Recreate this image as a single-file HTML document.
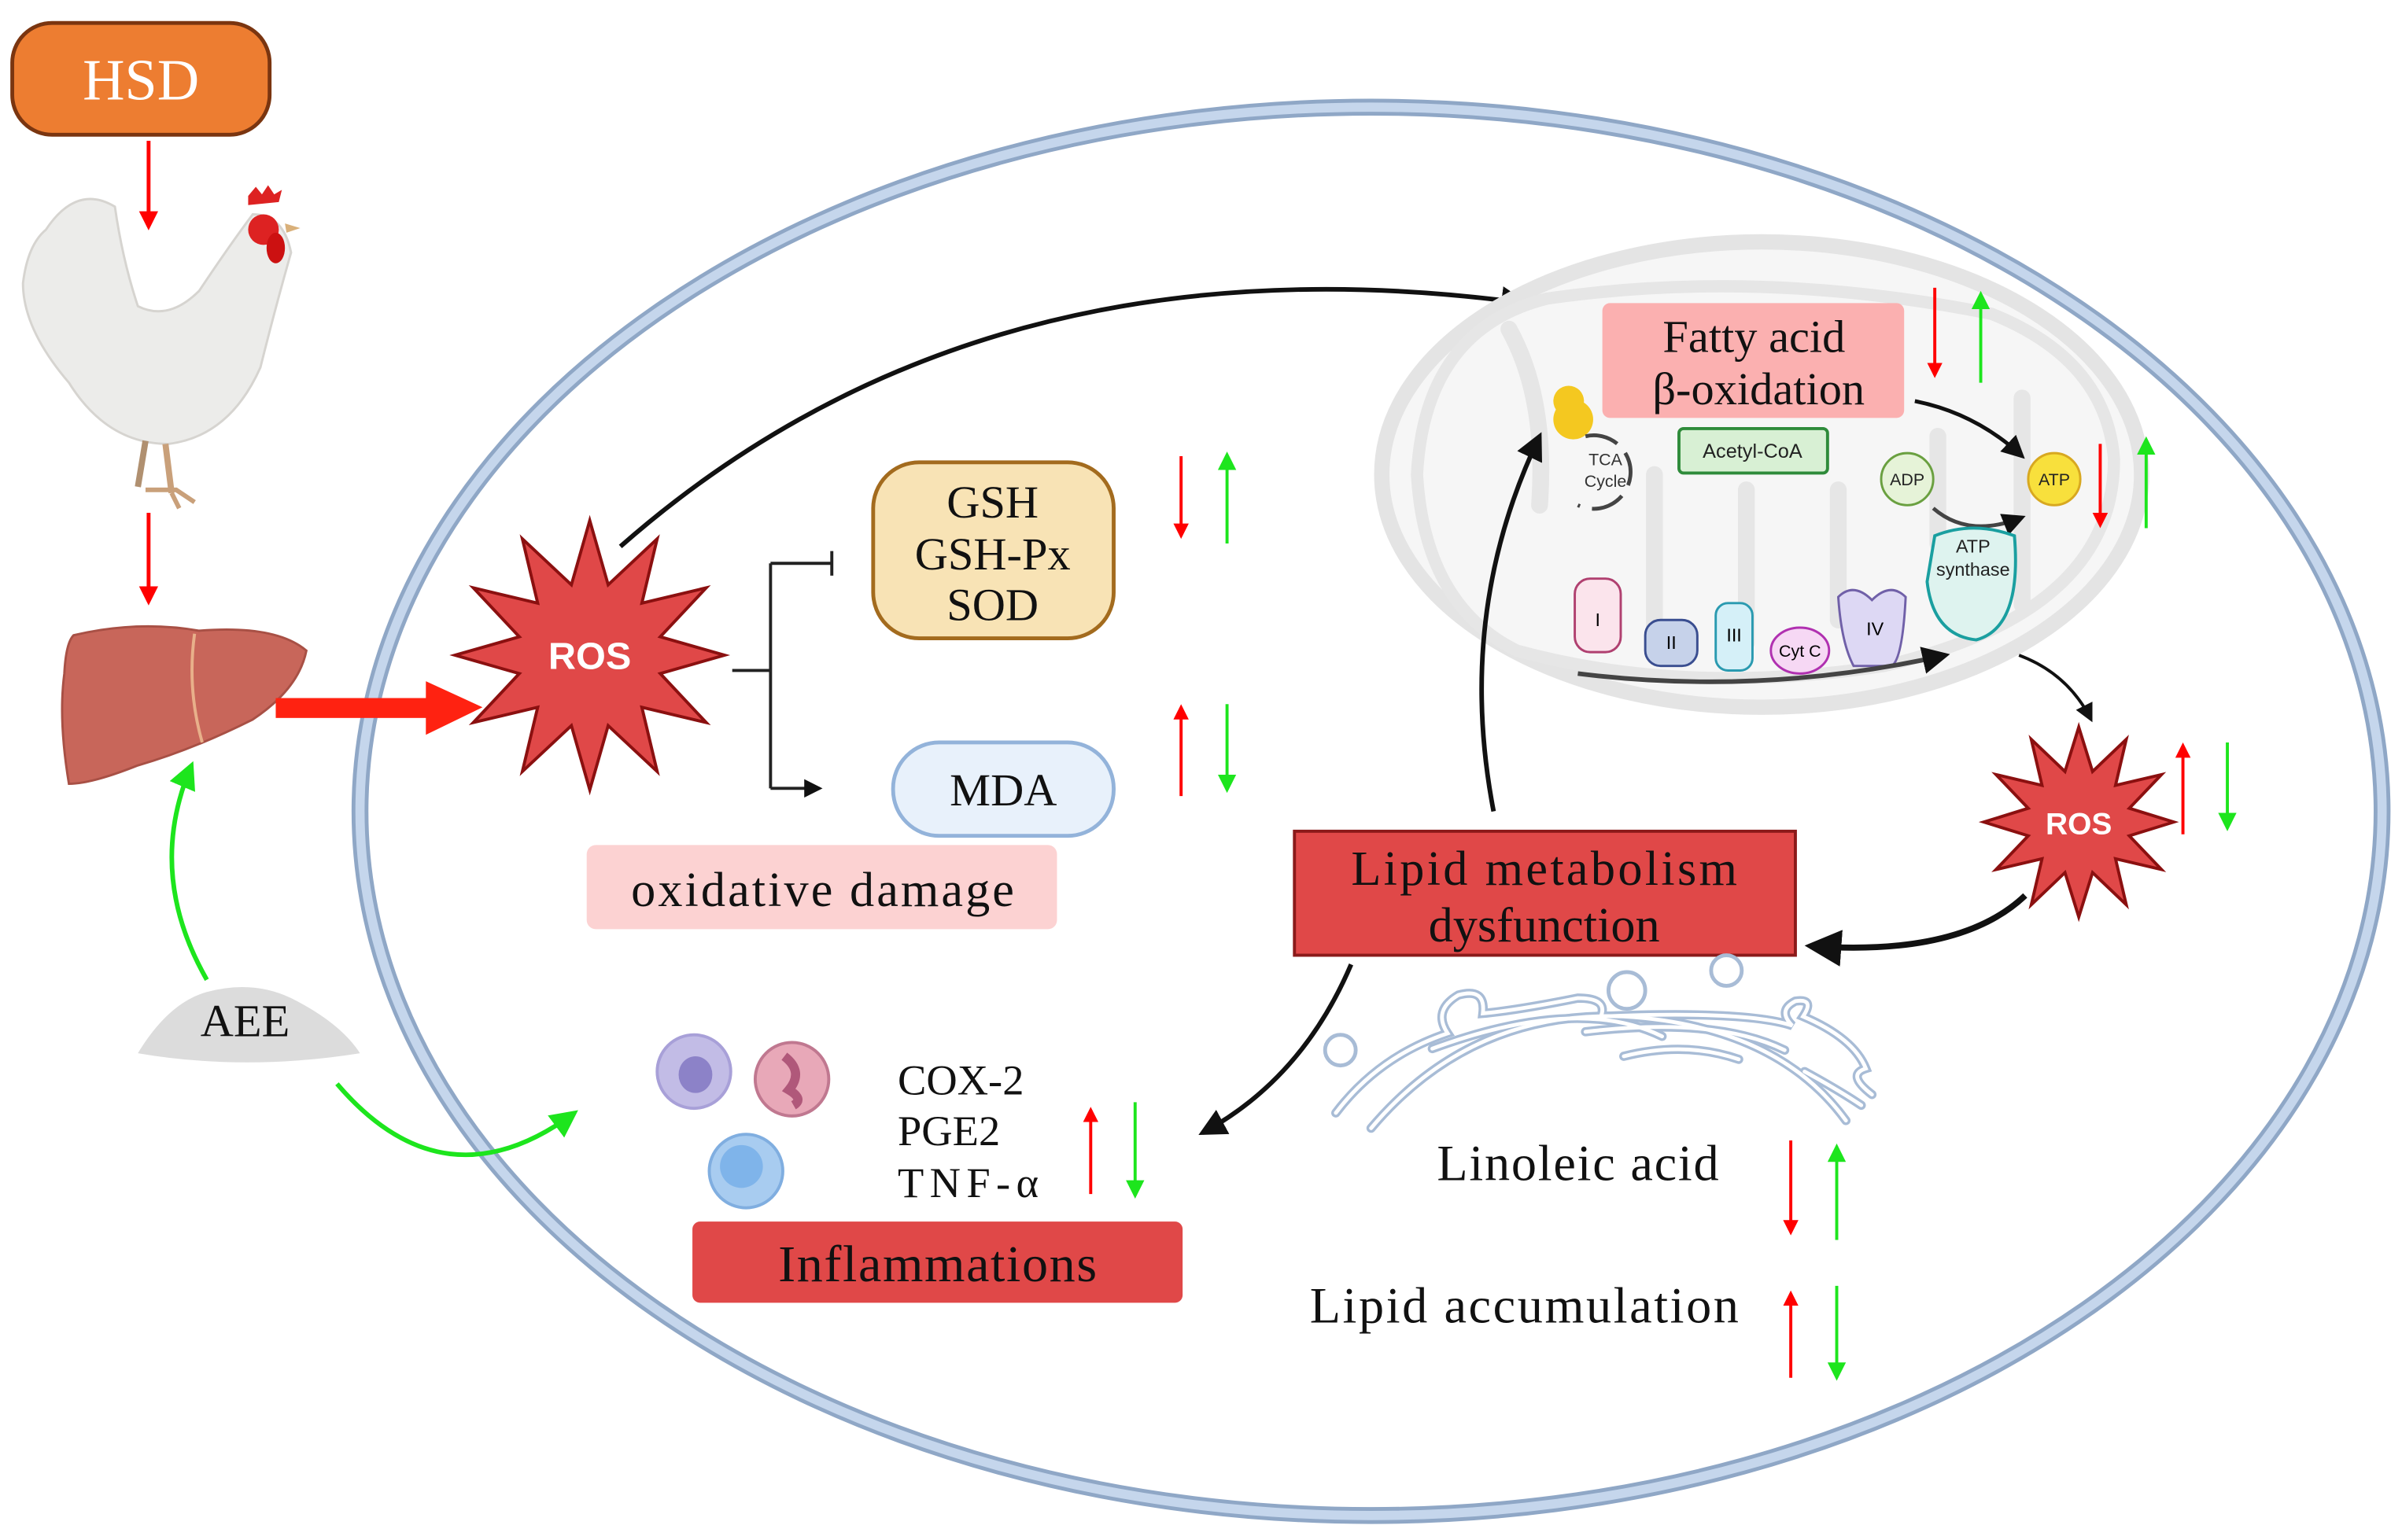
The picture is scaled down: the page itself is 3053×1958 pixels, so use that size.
<!DOCTYPE html>
<html><head><meta charset="utf-8"><style>
html,body{margin:0;padding:0;background:#fff;}
svg{display:block;}
.t{font-family:"Liberation Serif",serif;fill:#111;}
.s{font-family:"Liberation Sans",sans-serif;}
</style></head><body>
<svg width="3053" height="1958" viewBox="0 0 1568 1006" preserveAspectRatio="none" xmlns="http://www.w3.org/2000/svg">
<defs>
<marker id="ab" markerWidth="6" markerHeight="6" refX="5" refY="3" orient="auto" markerUnits="strokeWidth"><path d="M0,0 L6,3 L0,6 z" fill="#111"/></marker>
<marker id="ag" markerWidth="6" markerHeight="6" refX="5" refY="3" orient="auto" markerUnits="strokeWidth"><path d="M0,0 L6,3 L0,6 z" fill="#1de51d"/></marker>
<marker id="ar" markerWidth="5" markerHeight="5" refX="4" refY="2.5" orient="auto" markerUnits="strokeWidth"><path d="M0,0 L5,2.5 L0,5 z" fill="#f00"/></marker>
</defs>

<!-- cell membrane -->
<ellipse cx="895" cy="530" rx="660" ry="460" fill="none" stroke="#8fa7c6" stroke-width="11"/>
<ellipse cx="895" cy="530" rx="660" ry="460" fill="none" stroke="#c5d6ec" stroke-width="6"/>

<!-- HSD -->
<rect x="8" y="15" width="168" height="73" rx="26" fill="#ED7D31" stroke="#7a3510" stroke-width="2.5"/>
<text x="92" y="65" text-anchor="middle" class="t" style="fill:#fff" font-size="38">HSD</text>
<line x1="97" y1="92" x2="97" y2="148" stroke="#f00" stroke-width="2.5" marker-end="url(#ar)"/>
<line x1="97" y1="335" x2="97" y2="393" stroke="#f00" stroke-width="2.5" marker-end="url(#ar)"/>

<!-- chicken -->
<g>
<path d="M30,150 Q50,120 75,135 Q80,170 90,200 Q110,210 130,190 Q150,160 165,140 Q185,140 190,165 Q180,200 170,240 Q150,285 110,290 Q70,290 45,250 Q15,215 15,185 Q18,160 30,150z" fill="#ececea" stroke="#d6d4d0" stroke-width="1.5"/>
<path d="M162,128 l5,-6 l4,5 l4,-6 l4,6 l5,-3 l-2,8 l-20,2z" fill="#d22"/>
<circle cx="172" cy="150" r="10" fill="#d22"/>
<ellipse cx="180" cy="162" rx="6" ry="10" fill="#c11"/>
<path d="M186,146 l10,3 l-9,3z" fill="#d9b07a"/>
<line x1="95" y1="288" x2="90" y2="318" stroke="#b09070" stroke-width="4"/>
<line x1="108" y1="290" x2="112" y2="322" stroke="#c9a07a" stroke-width="4"/>
<path d="M95,320 l20,0 l12,8 M112,322 l5,10" stroke="#c9a07a" stroke-width="3" fill="none"/>
</g>

<!-- liver -->
<path d="M48,415 Q90,405 130,412 Q180,408 200,425 Q195,450 165,470 Q125,490 90,500 Q60,512 45,512 Q38,470 42,440 Q43,420 48,415z" fill="#c8665a" stroke="#a85045" stroke-width="1.5"/>
<path d="M127,414 Q122,450 132,485" stroke="#e8b08a" stroke-width="2" fill="none"/>
<rect x="180" y="456" width="100" height="13" fill="#f21"/>
<polygon points="278,445 315,462 278,480" fill="#f21"/>

<!-- AEE -->
<path d="M90,688 Q110,655 135,648 Q165,640 190,652 Q222,668 235,688 Q160,700 90,688z" fill="#dcdcdc"/>
<text x="160" y="677" text-anchor="middle" class="t" font-size="30">AEE</text>
<path d="M135,640 Q95,570 125,500" stroke="#1de51d" stroke-width="3" fill="none" marker-end="url(#ag)"/>
<path d="M220,708 Q290,790 375,727" stroke="#1de51d" stroke-width="3" fill="none" marker-end="url(#ag)"/>

<!-- ROS 1 -->
<polygon points="385,340 397,382 429,352 419,394 461,384 431,416 473,428 431,440 461,472 419,462 429,504 397,474 385,516 373,474 341,504 351,462 309,472 339,440 297,428 339,416 309,384 351,394 341,352 373,382" fill="#e04848" stroke="#8b1010" stroke-width="2"/>
<text x="385" y="437" text-anchor="middle" class="s" font-weight="bold" font-size="25" fill="#fff">ROS</text>

<!-- bracket -->
<path d="M478,438 H503 M503,368 V515 M503,368 H543 M543,360 V376" stroke="#222" stroke-width="2" fill="none"/>
<path d="M503,515 H535" stroke="#222" stroke-width="2" fill="none" marker-end="url(#ab)"/>

<!-- GSH -->
<rect x="570" y="302" width="157" height="115" rx="30" fill="#f8e3b5" stroke="#a36b1e" stroke-width="2.5"/>
<text x="648" y="338" text-anchor="middle" class="t" font-size="30">GSH</text>
<text x="648" y="372" text-anchor="middle" class="t" font-size="30">GSH-Px</text>
<text x="648" y="405" text-anchor="middle" class="t" font-size="30">SOD</text>
<rect x="583" y="485" width="144" height="61" rx="30" fill="#e8f1fb" stroke="#93b3da" stroke-width="2.5"/>
<text x="655" y="526" text-anchor="middle" class="t" font-size="30">MDA</text>
<rect x="383" y="552" width="307" height="55" rx="6" fill="#fcd2d2"/>
<text x="537" y="592" text-anchor="middle" class="t" font-size="32" textLength="250">oxidative damage</text>

<path d="M405,357 Q640,150 995,198" stroke="#111" stroke-width="3" fill="none" marker-end="url(#ab)"/>

<!-- mitochondrion -->
<ellipse cx="1150" cy="310" rx="248" ry="152" fill="#f6f6f6" stroke="#e4e4e4" stroke-width="10"/>
<path d="M1380,300 Q1380,400 1230,435 Q1100,455 990,425 Q930,395 925,310 Q930,215 1010,195 Q1150,175 1300,205 Q1375,235 1380,300z" fill="none" stroke="#e6e6e6" stroke-width="8"/>
<path d="M985,215 Q1010,260 1005,330 M1080,310 L1080,410 M1140,320 L1140,420 M1200,320 L1200,405 M1265,285 L1265,355 M1320,260 L1320,395" stroke="#e6e6e6" stroke-width="11" fill="none" stroke-linecap="round"/>

<rect x="1046" y="198" width="197" height="75" rx="5" fill="#fbb0b0"/>
<text x="1145" y="230" text-anchor="middle" class="t" font-size="30">Fatty acid</text>
<text x="1148" y="264" text-anchor="middle" class="t" font-size="30">β-oxidation</text>

<circle cx="1024" cy="262" r="10" fill="#f4c820"/><circle cx="1027" cy="274" r="13" fill="#f4c820"/>
<path d="M1035,285 A24,24 0 1 1 1030,330" stroke="#444" stroke-width="2.5" fill="none" stroke-dasharray="22,8"/>
<text x="1048" y="304" text-anchor="middle" class="s" font-size="11" fill="#333">TCA</text>
<text x="1048" y="318" text-anchor="middle" class="s" font-size="11" fill="#333">Cycle</text>
<rect x="1096" y="280" width="97" height="29" rx="3" fill="#d8f0d4" stroke="#2e8b3a" stroke-width="2"/>
<text x="1144" y="299" text-anchor="middle" class="s" font-size="13" fill="#222">Acetyl-CoA</text>
<circle cx="1245" cy="313" r="17" fill="#e6f3d8" stroke="#6aa040" stroke-width="1.5"/>
<text x="1245" y="317" text-anchor="middle" class="s" font-size="11" fill="#222">ADP</text>
<circle cx="1341" cy="313" r="17" fill="#f8e03c" stroke="#d8a820" stroke-width="1.5"/>
<text x="1341" y="317" text-anchor="middle" class="s" font-size="11" fill="#222">ATP</text>
<path d="M1250,262 Q1290,270 1320,298" stroke="#111" stroke-width="2.5" fill="none" marker-end="url(#ab)"/>
<path d="M1262,332 Q1285,352 1320,338" stroke="#444" stroke-width="2.5" fill="none" marker-end="url(#ab)"/>
<path d="M1263,350 Q1288,340 1315,350 Q1320,410 1290,418 Q1262,415 1258,380z" fill="#def3ef" stroke="#1a9fa0" stroke-width="2"/>
<text x="1288" y="361" text-anchor="middle" class="s" font-size="12" fill="#222">ATP</text>
<text x="1288" y="376" text-anchor="middle" class="s" font-size="12" fill="#222">synthase</text>
<rect x="1028" y="378" width="30" height="48" rx="10" fill="#fbe4ec" stroke="#b04070" stroke-width="1.5"/>
<text x="1043" y="409" text-anchor="middle" class="s" font-size="12">I</text>
<rect x="1074" y="405" width="34" height="30" rx="10" fill="#c6d2ea" stroke="#3a4e90" stroke-width="1.5"/>
<text x="1091" y="424" text-anchor="middle" class="s" font-size="12">II</text>
<rect x="1120" y="394" width="24" height="44" rx="8" fill="#d5f0f8" stroke="#2a9ab0" stroke-width="1.5"/>
<text x="1132" y="419" text-anchor="middle" class="s" font-size="12">III</text>
<ellipse cx="1175" cy="425" rx="19" ry="15" fill="#f6d8f4" stroke="#b030b0" stroke-width="1.5"/>
<text x="1175" y="429" text-anchor="middle" class="s" font-size="11">Cyt C</text>
<path d="M1200,390 Q1210,380 1222,392 Q1234,380 1244,390 Q1242,430 1235,435 L1210,435 Q1202,420 1200,390z" fill="#ddd8f4" stroke="#7060a8" stroke-width="1.5"/>
<text x="1224" y="415" text-anchor="middle" class="s" font-size="12">IV</text>
<path d="M1030,440 Q1150,455 1270,428" stroke="#444" stroke-width="3" fill="none" marker-end="url(#ab)"/>
<path d="M1318,428 Q1350,440 1365,470" stroke="#111" stroke-width="2" fill="none" marker-end="url(#ab)"/>

<!-- ROS 2 -->
<polygon points="1357,475 1366,504 1388,483 1381,513 1411,506 1390,528 1419,537 1390,546 1411,568 1381,561 1388,591 1366,570 1357,599 1348,570 1326,591 1333,561 1303,568 1324,546 1295,537 1324,528 1303,506 1333,513 1326,483 1348,504" fill="#e04848" stroke="#8b1010" stroke-width="2"/>
<text x="1357" y="545" text-anchor="middle" class="s" font-weight="bold" font-size="20" fill="#fff">ROS</text>
<path d="M1322,585 Q1280,625 1182,618" stroke="#111" stroke-width="4" fill="none" marker-end="url(#ab)"/>

<!-- Lipid metabolism -->
<rect x="845" y="543" width="327" height="81" fill="#e04848" stroke="#8b1a1a" stroke-width="2"/>
<text x="1008" y="578" text-anchor="middle" class="t" font-size="32" textLength="252">Lipid metabolism</text>
<text x="1008" y="615" text-anchor="middle" class="t" font-size="32">dysfunction</text>
<path d="M975,530 Q950,400 1005,285" stroke="#111" stroke-width="3" fill="none" marker-end="url(#ab)"/>
<path d="M882,630 Q850,705 785,740" stroke="#111" stroke-width="3" fill="none" marker-end="url(#ab)"/>

<!-- ER (tube style) -->
<g fill="none" stroke-linecap="round">
<g stroke="#a8bcd6" stroke-width="6">
<path d="M872,727 Q900,690 945,675 Q935,660 952,650 Q970,645 968,662 Q990,660 1030,652 Q1050,652 1045,664 Q1140,660 1170,670 Q1160,660 1172,654 Q1185,652 1177,664 Q1210,678 1218,698 Q1205,702 1222,715"/>
<path d="M895,737 Q960,660 1060,664 Q1160,670 1205,732"/>
<path d="M935,685 Q1030,650 1085,677"/>
<path d="M1035,674 Q1120,664 1165,686"/>
<path d="M1060,690 Q1100,680 1135,692"/>
<path d="M1178,700 Q1200,712 1215,722"/>
</g>
<g stroke="#fff" stroke-width="2.5">
<path d="M872,727 Q900,690 945,675 Q935,660 952,650 Q970,645 968,662 Q990,660 1030,652 Q1050,652 1045,664 Q1140,660 1170,670 Q1160,660 1172,654 Q1185,652 1177,664 Q1210,678 1218,698 Q1205,702 1222,715"/>
<path d="M895,737 Q960,660 1060,664 Q1160,670 1205,732"/>
<path d="M935,685 Q1030,650 1085,677"/>
<path d="M1035,674 Q1120,664 1165,686"/>
<path d="M1060,690 Q1100,680 1135,692"/>
<path d="M1178,700 Q1200,712 1215,722"/>
</g>
<g stroke="#a8bcd6" stroke-width="2.5">
<circle cx="875" cy="686" r="10"/><circle cx="1062" cy="647" r="12"/><circle cx="1127" cy="634" r="10"/>
</g>
</g>

<!-- Immune cells -->
<circle cx="453" cy="700" r="24" fill="#c2bce6" stroke="#a8a0d8" stroke-width="2"/><ellipse cx="454" cy="702" rx="11" ry="12" fill="#8c82c8"/>
<circle cx="517" cy="705" r="24" fill="#e8a8b8" stroke="#c07890" stroke-width="2"/><path d="M512,690 Q525,700 515,712 Q525,718 518,722" stroke="#b0587a" stroke-width="6" fill="none"/>
<ellipse cx="487" cy="765" rx="24" ry="24" fill="#a8ccf0" stroke="#80aee0" stroke-width="2"/><circle cx="484" cy="762" r="14" fill="#7fb4ea"/>

<text x="586" y="715" class="t" font-size="28">COX-2</text>
<text x="586" y="748" class="t" font-size="28">PGE2</text>
<text x="586" y="782" class="t" font-size="28" textLength="92">TNF-α</text>
<rect x="452" y="798" width="320" height="53" rx="5" fill="#e04848"/>
<text x="612" y="837" text-anchor="middle" class="t" font-size="34" textLength="208">Inflammations</text>

<text x="938" y="771" class="t" font-size="33" textLength="184">Linoleic acid</text>
<text x="855" y="864" class="t" font-size="33" textLength="280">Lipid accumulation</text>

<!-- up/down arrows -->
<g stroke-width="2">
<line x1="771" y1="298" x2="771" y2="350" stroke="#f00" marker-end="url(#ar)"/>
<line x1="801" y1="355" x2="801" y2="297" stroke="#1de51d" style="marker-end:url(#ag)"/>
<line x1="771" y1="520" x2="771" y2="462" stroke="#f00" marker-end="url(#ar)"/>
<line x1="801" y1="460" x2="801" y2="516" stroke="#1de51d" style="marker-end:url(#ag)"/>
<line x1="712" y1="780" x2="712" y2="725" stroke="#f00" marker-end="url(#ar)"/>
<line x1="741" y1="720" x2="741" y2="781" stroke="#1de51d" style="marker-end:url(#ag)"/>
<line x1="1263" y1="188" x2="1263" y2="245" stroke="#f00" marker-end="url(#ar)"/>
<line x1="1293" y1="250" x2="1293" y2="192" stroke="#1de51d" style="marker-end:url(#ag)"/>
<line x1="1371" y1="290" x2="1371" y2="343" stroke="#f00" marker-end="url(#ar)"/>
<line x1="1401" y1="345" x2="1401" y2="287" stroke="#1de51d" style="marker-end:url(#ag)"/>
<line x1="1425" y1="545" x2="1425" y2="487" stroke="#f00" marker-end="url(#ar)"/>
<line x1="1454" y1="485" x2="1454" y2="541" stroke="#1de51d" style="marker-end:url(#ag)"/>
<line x1="1169" y1="745" x2="1169" y2="805" stroke="#f00" marker-end="url(#ar)"/>
<line x1="1199" y1="810" x2="1199" y2="749" stroke="#1de51d" style="marker-end:url(#ag)"/>
<line x1="1169" y1="900" x2="1169" y2="845" stroke="#f00" marker-end="url(#ar)"/>
<line x1="1199" y1="840" x2="1199" y2="900" stroke="#1de51d" style="marker-end:url(#ag)"/>
</g>
</svg>
</body></html>
